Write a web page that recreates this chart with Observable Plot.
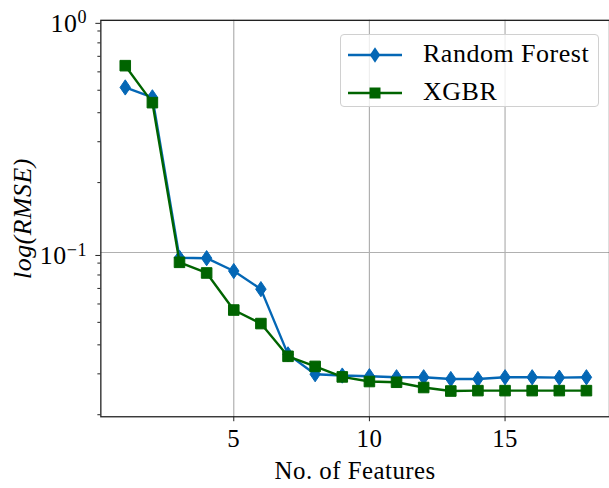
<!DOCTYPE html>
<html><head><meta charset="utf-8">
<script src="https://cdn.jsdelivr.net/npm/d3@7"></script>
<script src="https://cdn.jsdelivr.net/npm/@observablehq/plot@0.6"></script>
<style>
html,body{margin:0;padding:0;background:#fff;overflow:hidden;width:609px;height:488px}
#chart{position:relative;width:609px;height:488px;overflow:hidden}
#chart svg{display:block}
#chart svg text{font-family:"Liberation Serif","Times New Roman",Tinos,"DejaVu Serif",serif !important;letter-spacing:0.5px}
.legend{position:absolute;left:340px;top:34px;width:257px;height:71px;border:1px solid #d0d0d0;border-radius:4px;background:rgba(255,255,255,0.8);font-family:"Liberation Serif","Times New Roman",Tinos,"DejaVu Serif",serif;font-size:26px;letter-spacing:0.5px;color:#000}
.legend .row{position:absolute;left:0;height:30px;width:100%}
.legend .row svg{position:absolute;left:7px;top:0}
.legend .row span{position:absolute;left:82px;top:50%;transform:translateY(-52%);white-space:nowrap;line-height:1}
</style></head><body><div id="chart"></div>
<script>
// ---- data ----
const features = [1,2,3,4,5,6,7,8,9,10,11,12,13,14,15,16,17,18];
const randomForest = [0.514,0.466,0.0949,0.0945,0.0832,0.0695,0.0364,0.0299,0.0295,0.0293,0.0290,0.0290,0.0285,0.0285,0.0290,0.0290,0.0289,0.0290];
const xgbr = [0.638,0.442,0.0907,0.0816,0.0565,0.0494,0.0357,0.0323,0.0291,0.0278,0.0276,0.0262,0.0253,0.0254,0.0254,0.0254,0.0254,0.0254];
const seriesNames = ["Random Forest","XGBR"];
const seriesColors = ["#0467b5","#006400"];
const xTicks = [5,10,15];
const yMajor = [0.1,1];
const yMajorLabels = [["10","\u22121"],["10","0"]];
const yMinor = [0.02,0.03,0.04,0.05,0.06,0.07,0.08,0.09,0.2,0.3,0.4,0.5,0.6,0.7,0.8,0.9];
const xLabel = "No. of Features";
const yLabel = "log(RMSE)";

const rows = [];
features.forEach((f,i)=>{ rows.push({x:f, y:randomForest[i], s:seriesNames[0]}); });
features.forEach((f,i)=>{ rows.push({x:f, y:xgbr[i], s:seriesNames[1]}); });
const rfRows = rows.filter(d=>d.s===seriesNames[0]);
const xgRows = rows.filter(d=>d.s===seriesNames[1]);

const thinDiamond = {
  draw(ctx, size){
    const r = Math.sqrt(size/Math.PI);
    const hh = r*1.2, hw = r*0.82;
    ctx.moveTo(0,-hh); ctx.lineTo(hw,0); ctx.lineTo(0,hh); ctx.lineTo(-hw,0); ctx.closePath();
  }
};

const font = "Liberation Serif, Times New Roman, Tinos, DejaVu Serif, serif";
const plot = Plot.plot({
  width: 613, height: 488,
  marginLeft: 101, marginRight: 0, marginTop: 20, marginBottom: 69,
  style: {fontFamily: font, fontSize: "25px", background: "transparent", color: "#000"},
  x: {domain: [0.1, 18.85]},
  y: {type: "log", domain: [0.0196, 1]},
  marks: [
    Plot.gridX(xTicks, {stroke: "#b0b0b0", strokeOpacity: 1, strokeWidth: 1.2}),
    Plot.gridY(yMajor, {stroke: "#b0b0b0", strokeOpacity: 1, strokeWidth: 1.2}),
    Plot.line(rfRows, {x: "x", y: "y", stroke: seriesColors[0], strokeWidth: 2.4}),
    Plot.dot(rfRows, {x: "x", y: "y", symbol: thinDiamond, r: 6.4, fill: seriesColors[0], stroke: seriesColors[0], strokeWidth: 1}),
    Plot.line(xgRows, {x: "x", y: "y", stroke: seriesColors[1], strokeWidth: 2.4}),
    Plot.dot(xgRows, {x: "x", y: "y", symbol: "square", r: 6.0, fill: seriesColors[1], stroke: seriesColors[1], strokeWidth: 1}),
    Plot.frame({stroke: "#222", strokeWidth: 1.3}),
    Plot.axisX({ticks: xTicks, tickSize: 5, tickPadding: 8, label: null, fontSize: 25, stroke: "#222"}),
    Plot.axisY({ticks: yMinor, tickSize: 3, tickFormat: () => "", label: null, stroke: "#222"}),
    Plot.axisY({ticks: yMajor, tickSize: 5, tickPadding: 9, dy: 3, tickFormat: d => String(d), label: null, fontSize: 26, stroke: "#222"}),
    Plot.text([xLabel], {frameAnchor: "bottom", textAnchor: "middle", dy: 55, lineAnchor: "middle", fontSize: 25}),
    Plot.text([yLabel], {frameAnchor: "left", textAnchor: "middle", dx: -79, rotate: -90, lineAnchor: "middle", fontSize: 26, fontStyle: "italic"})
  ]
});

// superscript tick labels
d3.select(plot).selectAll('g[aria-label="y-axis tick label"] text').each(function(){
  const el = d3.select(this);
  const v = +el.text();
  if (!(v > 0)) return;
  const idx = yMajor.indexOf(v);
  if (idx < 0) return;
  const [base, exp] = yMajorLabels[idx];
  el.text("");
  el.append("tspan").text(base);
  el.append("tspan").attr("dy", "-0.45em").attr("font-size", "0.7em").text(exp);
});

const chart = document.getElementById("chart");
chart.appendChild(plot);

// legend
const legend = document.createElement("div");
legend.className = "legend";
const symbols = ["diamond","square"];
seriesNames.forEach((name,i)=>{
  const row = document.createElement("div");
  row.className = "row";
  row.style.top = (i===0 ? 5 : 43) + "px";
  const sw = d3.create("svg").attr("width", 56).attr("height", 30);
  sw.append("line").attr("x1",0).attr("x2",54).attr("y1",15).attr("y2",15).attr("stroke",seriesColors[i]).attr("stroke-width",2.4);
  if (symbols[i]==="diamond") {
    sw.append("path").attr("d","M27,7.3L32.2,15L27,22.7L21.8,15Z").attr("fill",seriesColors[i]);
  } else {
    sw.append("rect").attr("x",21.5).attr("y",9.5).attr("width",11).attr("height",11).attr("fill",seriesColors[i]);
  }
  row.appendChild(sw.node());
  const sp = document.createElement("span");
  sp.textContent = name;
  row.appendChild(sp);
  legend.appendChild(row);
});
chart.appendChild(legend);
</script>
</body></html>
